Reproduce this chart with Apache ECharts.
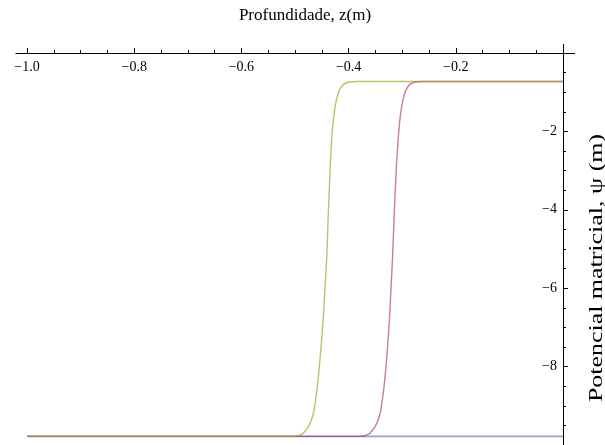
<!DOCTYPE html>
<html>
<head>
<meta charset="utf-8">
<script src="https://cdn.jsdelivr.net/npm/echarts@6/dist/echarts.min.js"></script>
<style>
html,body{margin:0;padding:0;background:#fff;}
#c{width:605px;height:445px;}
</style>
</head>
<body>
<div id="c"></div>
<script>
// Tick labels
var xTickLabels = {'-1.0':'\u22121.0','-0.8':'\u22120.8','-0.6':'\u22120.6','-0.4':'\u22120.4','-0.2':'\u22120.2'};
var yTickLabels = {'-2':'\u22122','-4':'\u22124','-6':'\u22126','-8':'\u22128'};

// Series 1 (blue): flat
var blueX = [-1.0, 0.0];
var blueY = [-9.78, -9.78];

// Series 2 (magenta)
var magX = [-1.0, -0.3787, -0.3632, -0.3507, -0.3414, -0.3364, -0.3321, -0.3274, -0.3237, -0.3209, -0.3181, -0.3144, -0.3106, -0.3069, -0.3032, -0.2985, -0.2929, -0.2854, -0.2752, -0.2612, 0.0];
var magY = [-9.78, -9.78, -9.73, -9.54, -9.21, -8.78, -8.28, -7.52, -6.76, -6.00, -5.24, -3.97, -2.84, -2.08, -1.57, -1.19, -0.94, -0.80, -0.74, -0.727, -0.727];

// Series 3 (yellow)
var yelX = [-1.0, -0.5037, -0.4875, -0.4752, -0.4659, -0.4608, -0.4565, -0.4515, -0.4472, -0.4440, -0.4409, -0.4375, -0.4341, -0.4310, -0.4272, -0.4226, -0.4170, -0.4095, -0.3993, -0.3843, 0.0];
var yelY = [-9.78, -9.78, -9.73, -9.54, -9.21, -8.78, -8.28, -7.52, -6.76, -6.00, -5.24, -3.97, -2.84, -2.08, -1.57, -1.19, -0.94, -0.80, -0.74, -0.727, -0.727];

function pairs(xs, ys){ var o=[]; for(var i=0;i<xs.length;i++){o.push([xs[i],ys[i]]);} return o; }

var chart = echarts.init(document.getElementById('c'), null, {renderer:'canvas'});
var serif = 'Liberation Serif, Times New Roman, serif';
var axisCol = '#000';
var option = {
  animation:false,
  backgroundColor:'#fff',
  grid:{left:27, right:42, top:53, height:395, containLabel:false},
  xAxis:{
    type:'value', position:'top', min:-1.0, max:0, interval:0.2,
    axisLine:{show:true, onZero:false, lineStyle:{color:axisCol, width:1}},
    axisTick:{show:true, inside:false, length:5, lineStyle:{color:axisCol}},
    minorTick:{show:true, splitNumber:4, length:3, lineStyle:{color:axisCol}},
    splitLine:{show:false},
    axisLabel:{inside:true, margin:7, fontFamily:serif, fontSize:14, color:'#000',
      formatter:function(v){ var k=v.toFixed(1); return xTickLabels[k]||''; }}
  },
  yAxis:{
    type:'value', position:'right', min:-10, max:0, interval:2,
    axisLine:{show:true, onZero:false, lineStyle:{color:axisCol, width:1}},
    axisTick:{show:true, inside:false, length:5, lineStyle:{color:axisCol}},
    minorTick:{show:true, splitNumber:4, length:3, lineStyle:{color:axisCol}},
    splitLine:{show:false},
    axisLabel:{inside:true, margin:6, fontFamily:serif, fontSize:14, color:'#000',
      formatter:function(v){ var k=String(Math.round(v)); return yTickLabels[k]||''; }}
  },
  graphic:[
    {type:'line', shape:{x1:15.5, y1:53.5, x2:27, y2:53.5}, style:{stroke:axisCol, lineWidth:1}},
    {type:'line', shape:{x1:563, y1:53.5, x2:575, y2:53.5}, style:{stroke:axisCol, lineWidth:1}},
    {type:'line', shape:{x1:563.5, y1:44, x2:563.5, y2:53}, style:{stroke:axisCol, lineWidth:1}},
    {type:'text', style:{text:'Profundidade, z(m)', x:305, y:16, textAlign:'center', textVerticalAlign:'middle', font:'17px ' + serif, fill:'#000'}},
    {type:'text', rotation:Math.PI/2, scaleX:1.44, x:597, y:268, style:{text:'Potencial matricial, \u03c8 (m)', x:0, y:0, textAlign:'center', textVerticalAlign:'middle', font:'18px ' + serif, fill:'#000'}}
  ],
  series:[
    {type:'line', data:pairs(blueX, blueY), showSymbol:false, symbol:'none', lineStyle:{color:'rgba(61,61,153,0.5)', width:1.6}, z:2},
    {type:'line', data:pairs(magX, magY), showSymbol:false, symbol:'none', smooth:0.2, lineStyle:{color:'rgba(170,40,110,0.62)', width:1.4}, z:3},
    {type:'line', data:pairs(yelX, yelY), showSymbol:false, symbol:'none', smooth:0.2, lineStyle:{color:'rgba(160,160,30,0.65)', width:1.4}, z:4}
  ]
};
chart.setOption(option);
</script>
</body>
</html>
